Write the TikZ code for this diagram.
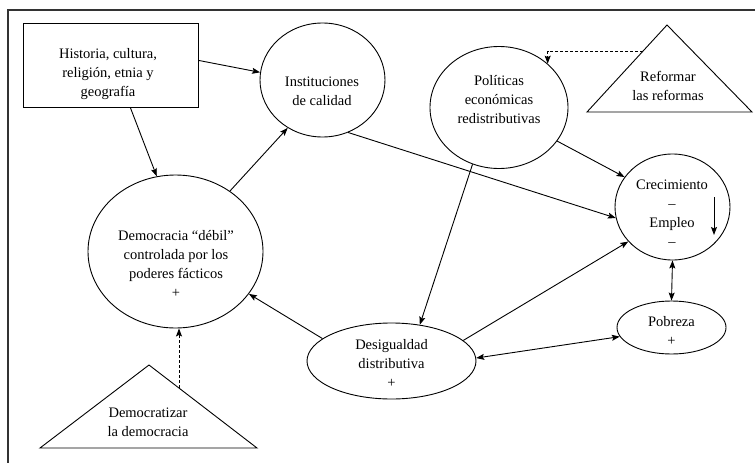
\documentclass[tikz,border=0pt]{standalone}
\usepackage{fontspec}
\setmainfont{Liberation Serif}
\usetikzlibrary{shapes.geometric,arrows.meta}
\tikzset{
  bubble/.style={draw, ellipse, inner sep=0pt, line width=0.9pt},
  txt/.style={align=center, inner sep=0pt, font=\fontsize{14.5}{19}\selectfont},
  tip/.style={-{Stealth[length=8pt,width=6pt,inset=1.5pt]}, line width=0.9pt},
  tips/.style={{Stealth[length=8pt,width=6pt,inset=1.5pt]}-{Stealth[length=8pt,width=6pt,inset=1.5pt]}, line width=0.9pt},
  hint/.style={tip, densely dashed}
}
\newcommand{\drawthick}{\draw[line width=0.9pt]}

\begin{document}
\begin{tikzpicture}[x=1pt,y=-1pt]
\useasboundingbox (0,0) rectangle (755,463);
\draw[line width=1.3pt, black!80] (8,463)--(8,10)--(755,10);
% shapes
\node[draw, line width=0.9pt, minimum width=175pt, minimum height=84pt, inner sep=0pt] (hist) at (110.5,65) {};
\node[bubble, minimum width=125pt, minimum height=114pt] (inst) at (322.5,80) {};
\node[bubble, minimum width=138pt, minimum height=122pt] (pol) at (499,107.5) {};
\node[bubble, minimum width=115pt, minimum height=106pt] (crec) at (672.5,207) {};
\node[bubble, minimum width=109pt, minimum height=53pt] (pob) at (671.5,327.5) {};
\node[bubble, minimum width=169pt, minimum height=76pt] (desig) at (391.5,361) {};
\node[bubble, minimum width=175pt, minimum height=153pt] (demo) at (175.5,251.5) {};
\drawthick (587,112)--(667,25)--(752,112)--cycle;
\drawthick (40,448)--(149,365)--(257,448)--cycle;
\coordinate (refside) at (643,51);
\coordinate (demside) at (179,388);
\coordinate (cup) at (714,197);
\coordinate (cdown) at (714,235);
% texts
\node[txt] (histtxt) at (108,74) {Historia, cultura,\\religión, etnia y\\geografía};
\node[txt] (insttxt) at (322,91.5) {Instituciones\\de calidad};
\node[txt] (poltxt) at (499,99.5) {Políticas\\económicas\\redistributivas};
\node[txt] (reftxt) at (668,85.5) {Reformar\\las reformas};
\node[txt] (crectxt) at (672,213) {Crecimiento\\–\\Empleo\\–};
\node[txt] (pobtxt) at (671.5,330.5) {Pobreza\\+};
\node[txt] (desigtxt) at (391.5,363) {Desigualdad\\distributiva\\+};
\node[txt] (demotxt) at (176,263.5) {Democracia “débil”\\controlada por los\\poderes fácticos\\+};
\node[txt] (demtritxt) at (148,422.5) {Democratizar\\la democracia};
% links
\draw[tip] (hist.3) -- (inst.173);
\draw[tip] (hist.-65) -- (demo.104);
\draw[tip] (demo.48) -- (inst.-126);
\draw[tip] (inst.-64) -- (crec.191);
\draw[tip] (pol.-30) -- (crec.148);
\draw[tip] (pol.-115) -- (desig.52);
\draw[tip] (desig.16) -- (crec.218);
\draw[tips] (desig.2) -- (pob.190);
\draw[tips] (crec.south) -- (pob.north);
\draw[tip] (desig.162) -- (demo.-30);
\draw[tip] (cup) -- (cdown);
\draw[hint] (refside) -| (pol.42);
\draw[hint] (demside) -- (demside |- demo.south);
\end{tikzpicture}
\end{document}
